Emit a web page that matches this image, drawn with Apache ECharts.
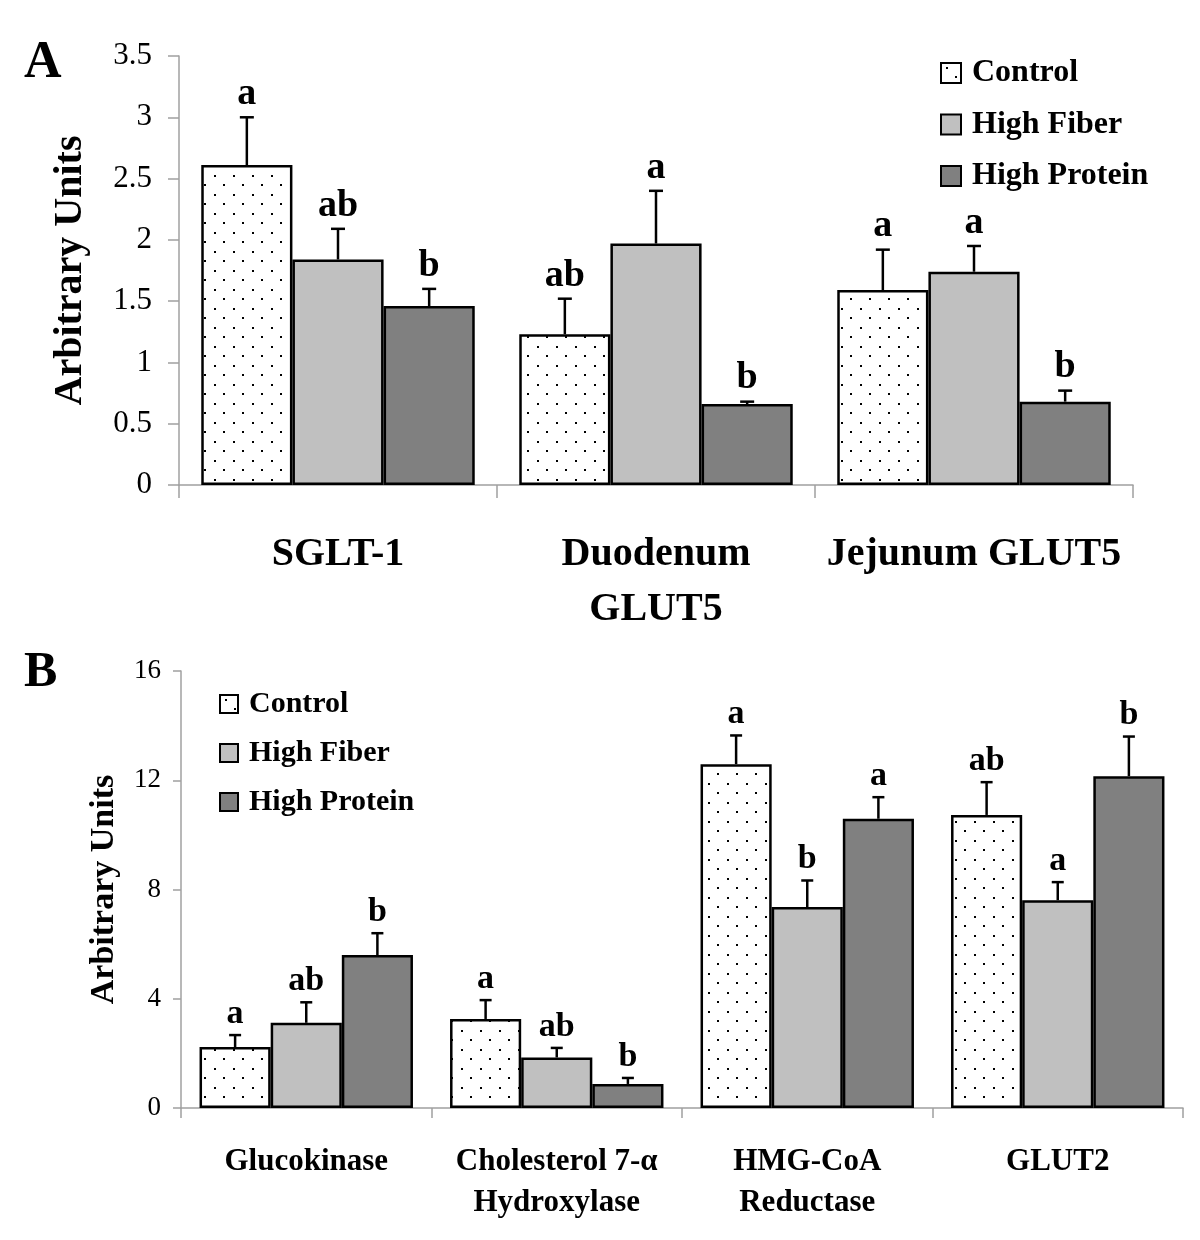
<!DOCTYPE html>
<html>
<head>
<meta charset="utf-8">
<script src="https://cdn.jsdelivr.net/npm/echarts@6/dist/echarts.min.js"></script>
<style>html,body{margin:0;padding:0;background:#fff}#c{width:1200px;height:1240px}</style>
</head>
<body>
<div id="c"></div>
<script>
// ---- Data ----
const seriesNames = ['Control', 'High Fiber', 'High Protein'];

// Panel A
const catsA = ['SGLT-1', 'Duodenum\nGLUT5', 'Jejunum GLUT5'];
const meanA_control = [2.61, 1.23, 1.59];
const errA_control  = [0.39, 0.29, 0.33];
const meanA_fiber   = [1.84, 1.97, 1.74];
const errA_fiber    = [0.25, 0.43, 0.21];
const meanA_protein = [1.46, 0.66, 0.68];
const errA_protein  = [0.14, 0.02, 0.09];
const letA_control  = ['a', 'ab', 'a'];
const letA_fiber    = ['ab', 'a', 'a'];
const letA_protein  = ['b', 'b', 'b'];
const ticksA = { min: 0, max: 3.5, interval: 0.5 };

// Panel B
const catsB = ['Glucokinase', 'Cholesterol 7-α\nHydroxylase', 'HMG-CoA\nReductase', 'GLUT2'];
const meanB_control = [2.23, 3.26, 12.59, 10.73];
const errB_control  = [0.44, 0.69, 1.05, 1.20];
const meanB_fiber   = [3.12, 1.85, 7.36, 7.61];
const errB_fiber    = [0.75, 0.35, 0.97, 0.66];
const meanB_protein = [5.60, 0.88, 10.59, 12.15];
const errB_protein  = [0.80, 0.22, 0.79, 1.45];
const letB_control  = ['a', 'a', 'a', 'ab'];
const letB_fiber    = ['ab', 'ab', 'b', 'a'];
const letB_protein  = ['b', 'b', 'a', 'b'];
const ticksB = { min: 0, max: 16, interval: 4 };

// ---- Styles ----
const FONT = "'Liberation Serif', 'Times New Roman', serif";
const GAP_A = 0.14, GAP_B = 0.148;
const fiberColor = '#c0c0c0';
const proteinColor = '#808080';
const axisGray = '#a0a0a0';

function dotPattern() {
  const cv = document.createElement('canvas');
  cv.width = 19; cv.height = 19;
  const ctx = cv.getContext('2d');
  ctx.fillStyle = '#fff';
  ctx.fillRect(0, 0, 19, 19);
  ctx.fillStyle = '#000';
  ctx.fillRect(5, 4, 2, 2);
  ctx.fillRect(14, 13, 2, 2);
  return { image: cv, repeat: 'repeat' };
}
const controlColor = dotPattern();

function barSeries(name, data, color, gi, gap) {
  return {
    name: name, type: 'bar', xAxisIndex: gi, yAxisIndex: gi,
    data: data, barGap: '0%', barCategoryGap: (gap * 100) + '%',
    itemStyle: { color: color, borderColor: '#000', borderWidth: 2.5 },
    emphasis: { disabled: true }, animation: false
  };
}

function errSeries(means, errs, lets, k, gi, gap, fontSize, capHalf) {
  return {
    type: 'custom', xAxisIndex: gi, yAxisIndex: gi, z: 5, animation: false,
    silent: true,
    data: means.map((m, i) => [i, m, errs[i]]),
    renderItem: function (params, api) {
      const i = api.value(0), m = api.value(1), e = api.value(2);
      const band = api.size([1, 0])[0];
      const barW = band * (1 - gap) / 3;
      const base = api.coord([i, m]);
      const top = api.coord([i, m + e]);
      const x = base[0] + (k - 1) * barW;
      return {
        type: 'group',
        children: [
          { type: 'line', shape: { x1: x, y1: base[1], x2: x, y2: top[1] },
            style: { stroke: '#000', lineWidth: 2.5 } },
          { type: 'line', shape: { x1: x - capHalf, y1: top[1], x2: x + capHalf, y2: top[1] },
            style: { stroke: '#000', lineWidth: 2.5 } },
          { type: 'text', x: x, y: top[1] - 4,
            style: { text: lets[params.dataIndex], fill: '#000', font: 'bold ' + fontSize + 'px ' + FONT,
                     textAlign: 'center', textVerticalAlign: 'bottom' } }
        ]
      };
    }
  };
}

const chart = echarts.init(document.getElementById('c'), null, { renderer: 'canvas' });

const option = {
  backgroundColor: '#fff',
  animation: false,
  textStyle: { fontFamily: FONT },
  grid: [
    { left: 179, top: 56, width: 954, height: 429 },
    { left: 181, top: 671, width: 1002, height: 437 }
  ],
  legend: [
    { orient: 'vertical', left: 935, top: 52, data: seriesNames, icon: 'rect',
      itemWidth: 20, itemHeight: 20, itemGap: 19.5, selectedMode: false,
      itemStyle: { borderColor: '#000', borderWidth: 2 },
      textStyle: { fontFamily: FONT, fontWeight: 'bold', fontSize: 32, color: '#000', lineHeight: 32, padding: [0, 0, 0, 6] } },
    { orient: 'vertical', left: 214, top: 684, data: seriesNames, icon: 'rect',
      itemWidth: 18, itemHeight: 18, itemGap: 19, selectedMode: false,
      itemStyle: { borderColor: '#000', borderWidth: 2 },
      textStyle: { fontFamily: FONT, fontWeight: 'bold', fontSize: 30, color: '#000', lineHeight: 30, padding: [0, 0, 0, 6] } }
  ],
  xAxis: [
    { type: 'category', gridIndex: 0, data: catsA,
      axisLine: { lineStyle: { color: axisGray, width: 1.5 } },
      axisTick: { show: true, length: 13, lineStyle: { color: axisGray, width: 1.5 } },
      axisLabel: { color: '#000', fontFamily: FONT, fontWeight: 'bold', fontSize: 40, lineHeight: 55, margin: 42, interval: 0 } },
    { type: 'category', gridIndex: 1, data: catsB,
      axisLine: { lineStyle: { color: axisGray, width: 1.5 } },
      axisTick: { show: true, length: 10, lineStyle: { color: axisGray, width: 1.5 } },
      axisLabel: { color: '#000', fontFamily: FONT, fontWeight: 'bold', fontSize: 31, lineHeight: 41, margin: 33, interval: 0 } }
  ],
  yAxis: [
    { type: 'value', gridIndex: 0, min: ticksA.min, max: ticksA.max, interval: ticksA.interval,
      name: 'Arbitrary Units', nameLocation: 'middle', nameGap: 88,
      nameTextStyle: { color: '#000', fontFamily: FONT, fontWeight: 'bold', fontSize: 40 },
      axisLine: { show: true, lineStyle: { color: axisGray, width: 1.5 } },
      axisTick: { show: true, length: 11, lineStyle: { color: axisGray, width: 1.5 } },
      splitLine: { show: false },
      axisLabel: { color: '#000', fontFamily: FONT, fontSize: 31, margin: 27 } },
    { type: 'value', gridIndex: 1, min: ticksB.min, max: ticksB.max, interval: ticksB.interval,
      name: 'Arbitrary Units', nameLocation: 'middle', nameGap: 60,
      nameTextStyle: { color: '#000', fontFamily: FONT, fontWeight: 'bold', fontSize: 34 },
      axisLine: { show: true, lineStyle: { color: axisGray, width: 1.5 } },
      axisTick: { show: true, length: 8, lineStyle: { color: axisGray, width: 1.5 } },
      splitLine: { show: false },
      axisLabel: { color: '#000', fontFamily: FONT, fontSize: 27, margin: 20 } }
  ],
  graphic: [
    { type: 'text', left: 24, top: 38, style: { text: 'A', font: 'bold 52px ' + FONT, fill: '#000' } },
    { type: 'text', left: 24, top: 648, style: { text: 'B', font: 'bold 50px ' + FONT, fill: '#000' } }
  ],
  series: [
    barSeries('Control', meanA_control, controlColor, 0, GAP_A),
    barSeries('High Fiber', meanA_fiber, fiberColor, 0, GAP_A),
    barSeries('High Protein', meanA_protein, proteinColor, 0, GAP_A),
    errSeries(meanA_control, errA_control, letA_control, 0, 0, GAP_A, 38, 7),
    errSeries(meanA_fiber, errA_fiber, letA_fiber, 1, 0, GAP_A, 38, 7),
    errSeries(meanA_protein, errA_protein, letA_protein, 2, 0, GAP_A, 38, 7),
    barSeries('Control', meanB_control, controlColor, 1, GAP_B),
    barSeries('High Fiber', meanB_fiber, fiberColor, 1, GAP_B),
    barSeries('High Protein', meanB_protein, proteinColor, 1, GAP_B),
    errSeries(meanB_control, errB_control, letB_control, 0, 1, GAP_B, 34, 6),
    errSeries(meanB_fiber, errB_fiber, letB_fiber, 1, 1, GAP_B, 34, 6),
    errSeries(meanB_protein, errB_protein, letB_protein, 2, 1, GAP_B, 34, 6)
  ]
};
chart.setOption(option);
</script>
</body>
</html>
